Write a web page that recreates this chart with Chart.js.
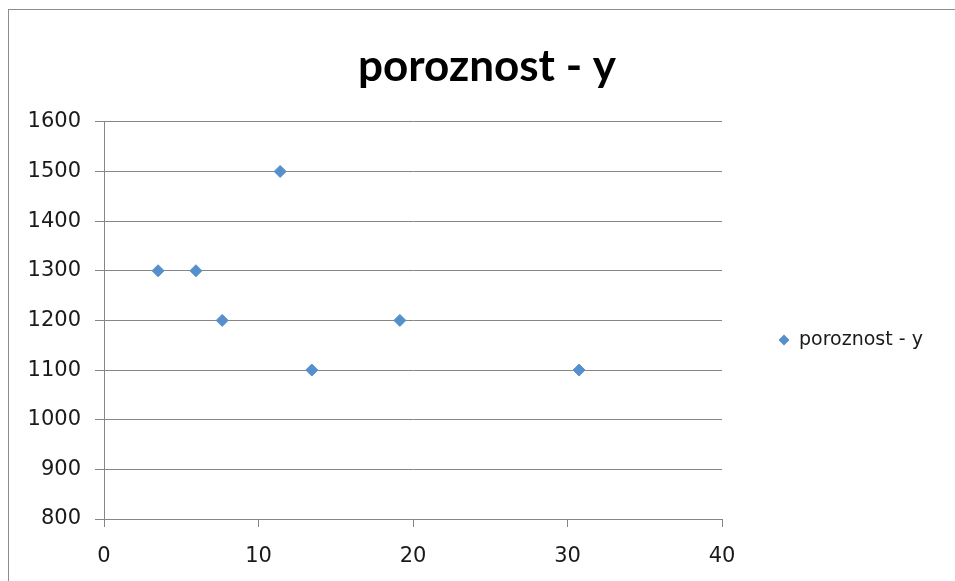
<!DOCTYPE html>
<html>
<head>
<meta charset="utf-8">
<script src="https://cdn.jsdelivr.net/npm/chart.js@4.4.1/dist/chart.umd.min.js"></script>
<style>
  html, body { margin: 0; padding: 0; background: #fff; }
  #wrap { width: 955px; height: 581px; position: relative; }
</style>
</head>
<body>
<div id="wrap"><canvas id="chart" width="955" height="581"></canvas></div>
<script>
// values
const seriesName = 'poroznost - y';
const xValues = [3.5, 5.95, 7.65, 11.4, 13.45, 19.15, 30.75];
const yValues = [1300, 1300, 1200, 1500, 1100, 1200, 1100];
const xTicks = [0, 10, 20, 30, 40];
const yTicks = [800, 900, 1000, 1100, 1200, 1300, 1400, 1500, 1600];

const MARKER = '#5590cc';
const GRID = '#868686';
const TICK_FONT = { family: 'DejaVu Sans', size: 21 };

// outer frame of the chart object (cropped on right and bottom)
const framePlugin = {
  id: 'frame',
  beforeDraw(chart) {
    const ctx = chart.ctx;
    ctx.save();
    ctx.fillStyle = '#fff';
    ctx.fillRect(0, 0, chart.width, chart.height);
    ctx.strokeStyle = '#8c8c8c';
    ctx.lineWidth = 1;
    ctx.strokeRect(8.5, 9.5, 1000, 1000);
    ctx.restore();
  }
};

// legend on the right, drawn from the dataset style
const legendPlugin = {
  id: 'sideLegend',
  afterDraw(chart) {
    const ctx = chart.ctx;
    const ds = chart.data.datasets[0];
    const x = 784, y = 340;
    ctx.save();
    ctx.fillStyle = ds.backgroundColor;
    ctx.strokeStyle = ds.borderColor;
    ctx.beginPath();
    ctx.moveTo(x, y - 5.5); ctx.lineTo(x + 5.5, y); ctx.lineTo(x, y + 5.5); ctx.lineTo(x - 5.5, y);
    ctx.closePath();
    ctx.fill();
    ctx.font = '19px "DejaVu Sans"';
    ctx.fillStyle = '#1a1a1a';
    ctx.textBaseline = 'middle';
    ctx.textAlign = 'left';
    ctx.fillText(ds.label, 799, y);
    ctx.restore();
  }
};

new Chart(document.getElementById('chart'), {
  type: 'scatter',
  data: {
    datasets: [{
      label: seriesName,
      data: xValues.map((x, i) => ({ x: x, y: yValues[i] })),
      pointStyle: 'rectRot',
      pointRadius: 6,
      pointHoverRadius: 6,
      backgroundColor: MARKER,
      borderColor: MARKER,
      borderWidth: 1
    }]
  },
  options: {
    responsive: false,
    animation: false,
    layout: { padding: { left: 19, right: 0, top: 0, bottom: 0 } },
    plugins: {
      legend: { display: false },
      tooltip: { enabled: false },
      title: {
        display: true,
        text: seriesName,
        color: '#000',
        font: { family: 'Lato', size: 44, weight: 'bold' },
        padding: { top: 40, bottom: 29 }
      }
    },
    scales: {
      x: {
        type: 'linear',
        min: 0,
        max: 40,
        afterBuildTicks(scale) { scale.ticks = xTicks.map(v => ({ value: v })); },
        afterFit(scale) { scale.height = 62; },
        grid: { drawOnChartArea: false, drawTicks: true, tickLength: 8, color: GRID, lineWidth: 1 },
        border: { display: true, color: GRID, width: 1 },
        ticks: { color: '#1a1a1a', font: TICK_FONT, padding: 17, maxRotation: 0, callback: v => String(v) }
      },
      y: {
        type: 'linear',
        min: 800,
        max: 1600,
        afterBuildTicks(scale) { scale.ticks = yTicks.map(v => ({ value: v })); },
        afterFit(scale) { scale.width = 85; },
        grid: { drawOnChartArea: true, drawTicks: true, tickLength: 9, color: GRID, lineWidth: 1 },
        border: { display: true, color: GRID, width: 1 },
        ticks: { color: '#1a1a1a', font: TICK_FONT, padding: 14, callback: v => String(v) }
      },
      // empty space on the right that holds the legend
      side: {
        type: 'linear',
        position: 'right',
        afterFit(scale) { scale.width = 233; },
        grid: { display: false },
        border: { display: false },
        ticks: { display: false }
      }
    }
  },
  plugins: [framePlugin, legendPlugin]
});
</script>
</body>
</html>
